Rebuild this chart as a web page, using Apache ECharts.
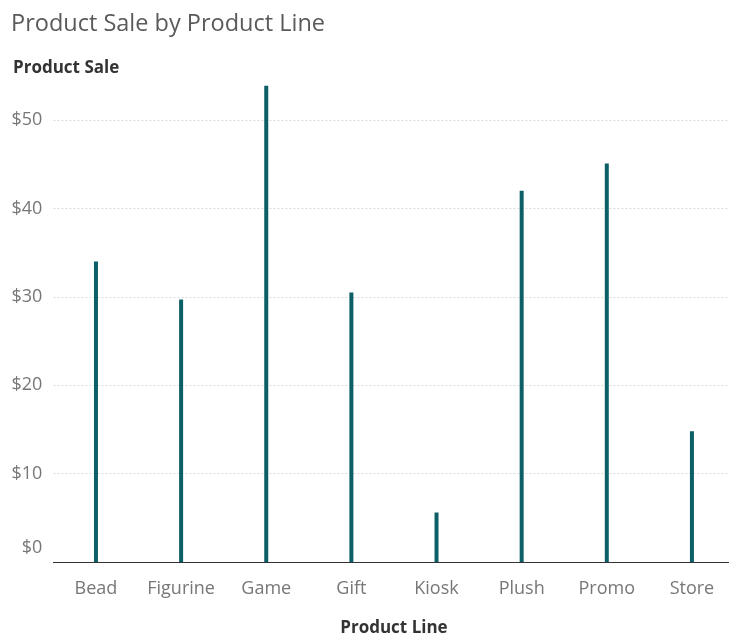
<!DOCTYPE html>
<html><head><meta charset="utf-8">
<script src="https://cdn.jsdelivr.net/npm/echarts@6/dist/echarts.min.js"></script>
<style>html,body{margin:0;padding:0;background:#fff;overflow:hidden}#c{width:735px;height:639px}</style>
</head><body><div id="c"></div>
<script>
const categories = ['Bead','Figurine','Game','Gift','Kiosk','Plush','Promo','Store'];
const sales = [34.0, 29.7, 53.9, 30.5, 5.6, 42.0, 45.1, 14.8];
const yTicks = [0, 10, 20, 30, 40, 50];

const chart = echarts.init(document.getElementById('c'));
chart.setOption({
  animation: false,
  title: [
    { text: 'Product Sale by Product Line', left: 6, top: 7,
      textStyle: { fontFamily: 'Open Sans', fontSize: 23.5, fontWeight: 'normal', color: '#5a5a5a' } },
    { text: 'Product Sale', left: 8, top: 55,
      textStyle: { fontFamily: 'Open Sans', fontSize: 17, fontWeight: 'bold', color: '#333' } }
  ],
  grid: { left: 53.4, right: 0.5, top: 76, bottom: 77, containLabel: false, outerBoundsMode: 'none' },
  xAxis: {
    type: 'category', data: categories,
    name: 'Product Line', nameLocation: 'middle', nameGap: 58,
    nameTextStyle: { fontFamily: 'Open Sans', fontSize: 17, fontWeight: 'bold', color: '#333' },
    axisLine: { lineStyle: { color: '#333', width: 1 } },
    axisTick: { alignWithLabel: true, interval: 0, length: 6, lineStyle: { color: '#333' } },
    axisLabel: { interval: 0, fontFamily: 'Open Sans', fontSize: 18, color: '#777', margin: 18 }
  },
  yAxis: {
    type: 'value', min: 0, max: 55, interval: 10,
    axisLine: { show: false }, axisTick: { show: false },
    axisLabel: {
      fontFamily: 'Open Sans', fontSize: 18, color: '#777', margin: 11,
      showMaxLabel: false,
      formatter: v => yTicks.includes(v) ? (v === 0 ? '{z|$0}' : '$' + v) : '',
      rich: { z: { fontFamily: 'Open Sans', fontSize: 18, color: '#777', padding: [0, 0, 28, 0] } }
    },
    splitLine: { show: true, showMinLine: false, showMaxLine: false,
      lineStyle: { color: '#d9d9d9', type: [2, 2], width: 1 } }
  },
  series: [{
    type: 'bar', data: sales, barWidth: 4,
    itemStyle: { color: '#0c5f66' }
  }]
});
</script></body></html>
